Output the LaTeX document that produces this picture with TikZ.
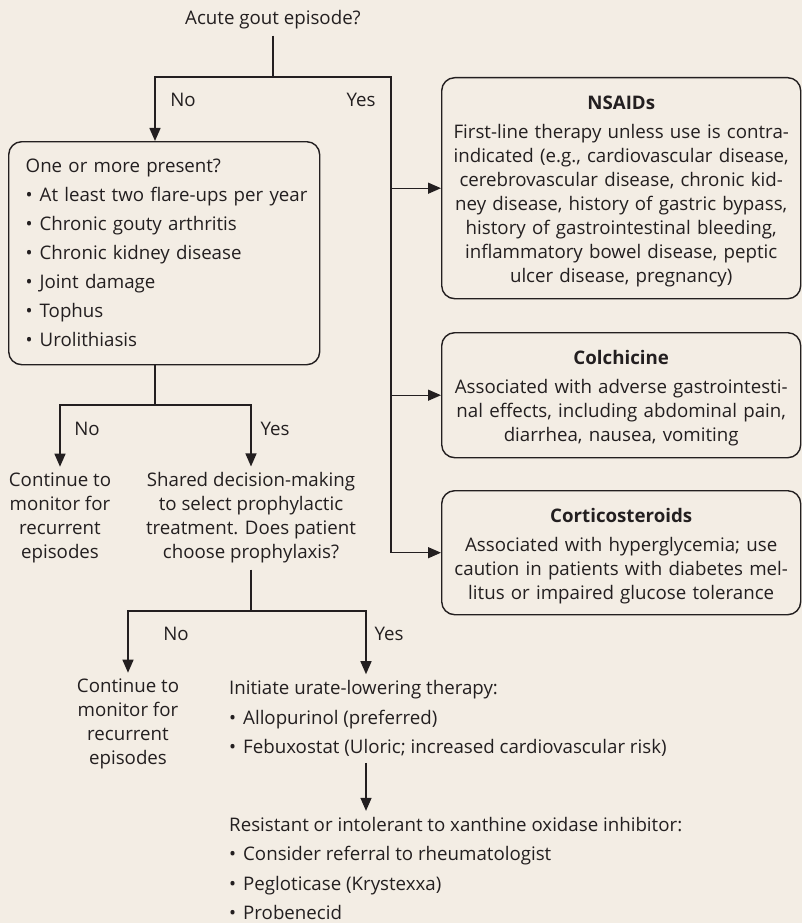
\documentclass[tikz,border=0pt]{standalone}
\usepackage{fontspec}
\setmainfont{Open Sans}
\usepackage{xcolor}
\usetikzlibrary{arrows.meta,positioning}

\definecolor{paper}{HTML}{F3EDE4}
\definecolor{ink}{HTML}{231F20}
\newcommand{\bul}{\makebox[14pt][l]{\textbullet}}

\begin{document}
\begin{tikzpicture}[
  x=1pt, y=-1pt,
  font=\fontsize{18.7}{24}\selectfont, text=ink,
  box/.style={draw=ink, line width=1.4pt, rounded corners=13pt,
              inner xsep=18pt, inner ysep=0pt},
  drug/.style={box, anchor=north west, minimum width=359pt,
               text width=351pt, inner xsep=4pt, align=center,
               execute at begin node={\rule{0pt}{21pt}}},
  plain/.style={align=center, inner xsep=0pt, inner ysep=6pt},
  listing/.style={align=left, inner xsep=0pt, inner ysep=6pt,
                  font=\fontsize{18.7}{29.5}\selectfont},
  lbl/.style={inner sep=0pt},
  link/.style={draw=ink, line width=1.4pt},
  arrow/.style={link, -{Triangle[length=13pt,width=11pt]}},
]
  \fill[paper] (0,0) rectangle (802,923);
  \useasboundingbox (0,0) rectangle (802,923);

  \node[plain] (acute) at (273,20) {Acute gout episode?};

  \node[box, anchor=north west, minimum width=311pt, minimum height=223pt,
        text width=277pt, inner xsep=17pt, align=left,
        font=\fontsize{18.7}{29}\selectfont]
    (present) at (8,141) {One or more present?\\
      \mbox{\bul At least two flare-ups per year}\\
      \bul Chronic gouty arthritis\\
      \bul Chronic kidney disease\\
      \bul Joint damage\\
      \bul Tophus\\
      \bul Urolithiasis};

  \node[drug, minimum height=221pt] (nsaid) at (441,77)
    {\textbf{NSAIDs}\\[5pt]
     First-line therapy unless use is contra-\\
     indicated (e.g., cardiovascular disease,\\
     cerebrovascular disease, chronic kid-\\
     ney disease, history of gastric bypass,\\
     history of gastrointestinal bleeding,\\
     inflammatory bowel disease, peptic\\
     ulcer disease, pregnancy)};
  \node[drug, minimum height=125pt] (colch) at (441,332)
    {\textbf{Colchicine}\\[5pt]
     Associated with adverse gastrointesti-\\
     nal effects, including abdominal pain,\\
     diarrhea, nausea, vomiting};
  \node[drug, minimum height=124pt] (cortico) at (441,490)
    {\textbf{Corticosteroids}\\[5pt]
     Associated with hyperglycemia; use\\
     caution in patients with diabetes mel-\\
     litus or impaired glucose tolerance};

  \node[plain] (monitorA) at (60,518)
    {Continue to\\ monitor for\\ recurrent\\ episodes};
  \node[plain] (shared) at (251,518)
    {Shared decision-making\\ to select prophylactic\\
     treatment. Does patient\\ choose prophylaxis?};
  \node[plain] (monitorB) at (128,724)
    {Continue to\\ monitor for\\ recurrent\\ episodes};
  \node[listing, anchor=west] (urate) at (229,718.5)
    {Initiate urate-lowering therapy:\\
     \bul Allopurinol (preferred)\\
     \bul Febuxostat (Uloric; increased cardiovascular risk)};
  \node[listing, anchor=west] (resist) at (229,868.5)
    {Resistant or intolerant to xanthine oxidase inhibitor:\\
     \bul Consider referral to rheumatologist\\
     \bul Pegloticase (Krystexxa)\\
     \bul Probenecid};

  \coordinate (splitA) at (273,77);
  \coordinate (noA) at (155,77);
  \coordinate (yesA) at (391,77);
  \coordinate (splitB) at (155,405);
  \coordinate (noB) at (60,405);
  \coordinate (yesB) at (251,405);
  \coordinate (splitC) at (251,611);
  \coordinate (noC) at (128,611);
  \coordinate (yesC) at (366,611);

  \draw[link] (acute) -- (splitA);
  \draw[arrow] (splitA) -- (noA) -- (noA |- present.north);
  \draw[link] (splitA) -- (yesA) -- (yesA |- cortico.west);
  \draw[arrow] (yesA |- nsaid.west) -- (nsaid.west);
  \draw[arrow] (yesA |- colch.west) -- (colch.west);
  \draw[arrow] (yesA |- cortico.west) -- (cortico.west);
  \node[lbl] (noAlbl) at (183,100) {No};
  \node[lbl] (yesAlbl) at (361,100) {Yes};

  \draw[link] (splitB |- present.south) -- (splitB);
  \draw[arrow] (splitB) -- (noB) -- (noB |- monitorA.north);
  \draw[arrow] (splitB) -- (yesB) -- (yesB |- shared.north);
  \node[lbl] (noBlbl) at (87,429) {No};
  \node[lbl] (yesBlbl) at (275,429) {Yes};

  \draw[link] (shared) -- (splitC);
  \draw[arrow] (splitC) -- (noC) -- (noC |- monitorB.north);
  \draw[arrow] (splitC) -- (yesC) -- (yesC |- urate.north);
  \node[lbl] (noClbl) at (176,634) {No};
  \node[lbl] (yesClbl) at (389,634) {Yes};

  \draw[arrow] (yesC |- urate.south) -- (yesC |- resist.north);
\end{tikzpicture}
\end{document}
